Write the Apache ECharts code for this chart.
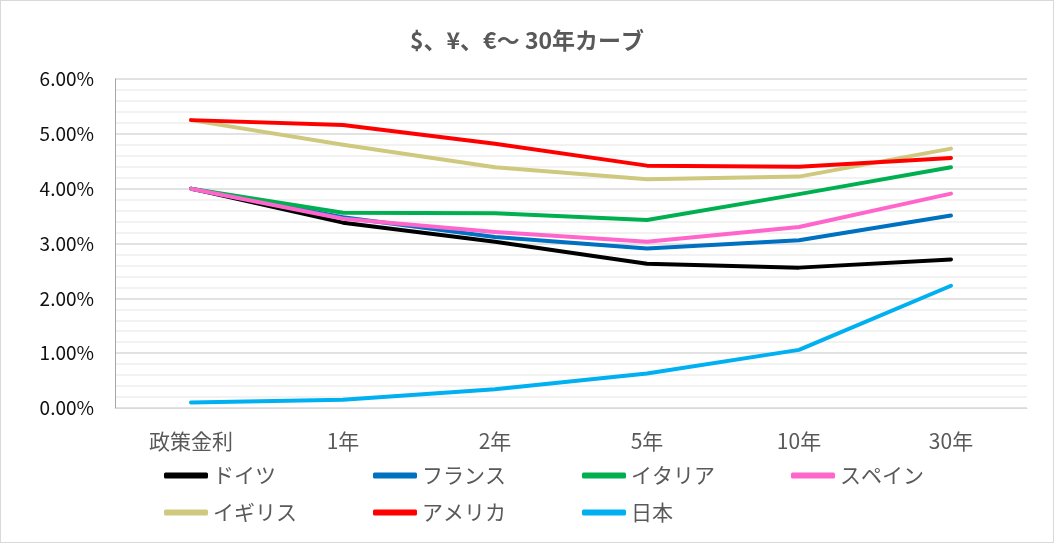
<!DOCTYPE html>
<html>
<head>
<meta charset="utf-8">
<script src="https://cdn.jsdelivr.net/npm/echarts@6/dist/echarts.min.js"></script>
<style>
  html, body { margin: 0; padding: 0; background: #fff; }
  #chart { width: 1054px; height: 543px; box-sizing: border-box; border: 1px solid #d9d9d9; }
</style>
</head>
<body>
<div id="chart"></div>
<script>
// 年限
const categories = ['政策金利', '1年', '2年', '5年', '10年', '30年'];

// 利回り(%)
const germany = [4.00, 3.38, 3.03, 2.63, 2.56, 2.71];
const france  = [4.00, 3.48, 3.12, 2.91, 3.06, 3.51];
const italy   = [4.00, 3.56, 3.55, 3.43, 3.90, 4.39];
const spain   = [4.00, 3.45, 3.21, 3.03, 3.30, 3.91];
const uk      = [5.25, 4.80, 4.39, 4.17, 4.22, 4.73];
const usa     = [5.25, 5.16, 4.82, 4.42, 4.40, 4.56];
const japan   = [0.10, 0.15, 0.34, 0.63, 1.06, 2.23];

const seriesNames = ['ドイツ', 'フランス', 'イタリア', 'スペイン', 'イギリス', 'アメリカ', '日本'];
const seriesData = [germany, france, italy, spain, uk, usa, japan];
const seriesColors = ['#000000', '#0070c0', '#00b050', '#ff66cc', '#cfc97f', '#ff0000', '#00b0f0'];

const font = '"Noto Sans CJK JP", "Noto Sans", sans-serif';

const chart = echarts.init(document.getElementById('chart'));

chart.setOption({
  animation: false,
  textStyle: { fontFamily: font },
  title: {
    text: '$、¥、€～ 30年カーブ',
    left: 'center',
    top: 23,
    textStyle: { fontFamily: font, fontSize: 23, fontWeight: 'bold', color: '#595959' }
  },
  legend: {
    data: seriesNames,
    left: 163,
    top: 456,
    padding: 0,
    width: 840,
    itemGap: 0,
    itemWidth: 44,
    itemHeight: 6,
    icon: 'roundRect',
    textStyle: { fontFamily: font, fontSize: 21, color: '#595959', width: 160, lineHeight: 37 }
  },
  grid: { left: 114, top: 78, right: 26, bottom: 134 },
  xAxis: {
    type: 'category',
    data: categories,
    boundaryGap: true,
    axisLine: { lineStyle: { color: '#d9d9d9', width: 1 } },
    axisTick: { show: false },
    axisLabel: { fontFamily: font, fontSize: 21, color: '#595959', margin: 23 }
  },
  yAxis: {
    type: 'value',
    min: 0,
    max: 6,
    interval: 1,
    axisLine: { show: true, lineStyle: { color: '#a6a6a6', width: 1 } },
    axisTick: { show: false },
    axisLabel: {
      fontFamily: font, fontSize: 19, color: '#111', margin: 21,
      formatter: v => v.toFixed(2) + '%'
    },
    splitLine: { lineStyle: { color: '#d9d9d9', width: 1.5 } },
    minorTick: { show: false, splitNumber: 5 },
    minorSplitLine: { show: true, lineStyle: { color: '#eeeeee', width: 1.5 } }
  },
  series: seriesNames.map((name, i) => ({
    name: name,
    type: 'line',
    data: seriesData[i],
    symbol: 'none',
    color: seriesColors[i],
    lineStyle: { width: 4, color: seriesColors[i], cap: 'round', join: 'round' },
    z: 2 + i
  }))
});
</script>
</body>
</html>
